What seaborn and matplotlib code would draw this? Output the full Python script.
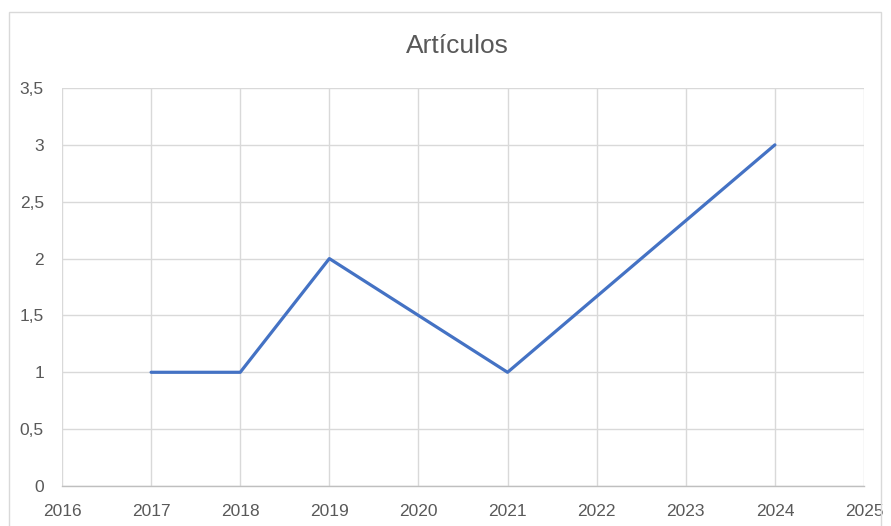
import matplotlib
matplotlib.use("Agg")
import matplotlib.pyplot as plt
import seaborn as sns
import pandas as pd
from matplotlib.patches import Rectangle

years = [2017, 2018, 2019, 2021, 2024]
articulos = [1, 1, 2, 1, 3]
x_ticks = list(range(2016, 2026))
y_ticks = [0, 0.5, 1, 1.5, 2, 2.5, 3, 3.5]
y_labels = ["0", "0,5", "1", "1,5", "2", "2,5", "3", "3,5"]
title = "Artículos"

sns.set_theme(style="white")
plt.rcParams['font.family'] = ['Liberation Sans', 'DejaVu Sans']

df = pd.DataFrame({"Año": years, "Artículos": articulos})

fig = plt.figure(figsize=(8.91, 5.26), dpi=100)
ax = fig.add_axes([62/891, 40/526, (864-62)/891, (486-88)/526])

sns.lineplot(data=df, x="Año", y="Artículos", ax=ax, color="#4472C4",
             linewidth=2.3, zorder=3)

ax.set_xlim(2016, 2025)
ax.set_ylim(0, 3.5)
ax.set_xticks(x_ticks)
ax.set_xticklabels([str(v) for v in x_ticks])
ax.set_yticks(y_ticks)
ax.set_yticklabels(y_labels)
ax.grid(True, color="#D9D9D9", linewidth=1.0)
ax.set_axisbelow(True)
for s in ["top", "right", "left"]:
    ax.spines[s].set_visible(False)
ax.spines["bottom"].set_color("#BFBFBF")
ax.spines["bottom"].set_linewidth(1.0)
ax.tick_params(axis="both", length=0, labelsize=12.5, labelcolor="#595959")
ax.tick_params(axis="x", pad=13)
ax.tick_params(axis="y", pad=13)
ax.set_xlabel("")
ax.set_ylabel("")

fig.text(0.5 + 12/891, 1 - 46/526, title, ha="center", va="center", fontsize=19,
         color="#595959")

fig.patches.append(Rectangle((9/891, -0.01), (881-9)/891, 1 - 12/526 + 0.01,
                             transform=fig.transFigure, fill=False,
                             edgecolor="#D9D9D9", linewidth=1.0))

fig.savefig("out.png", dpi=100)
